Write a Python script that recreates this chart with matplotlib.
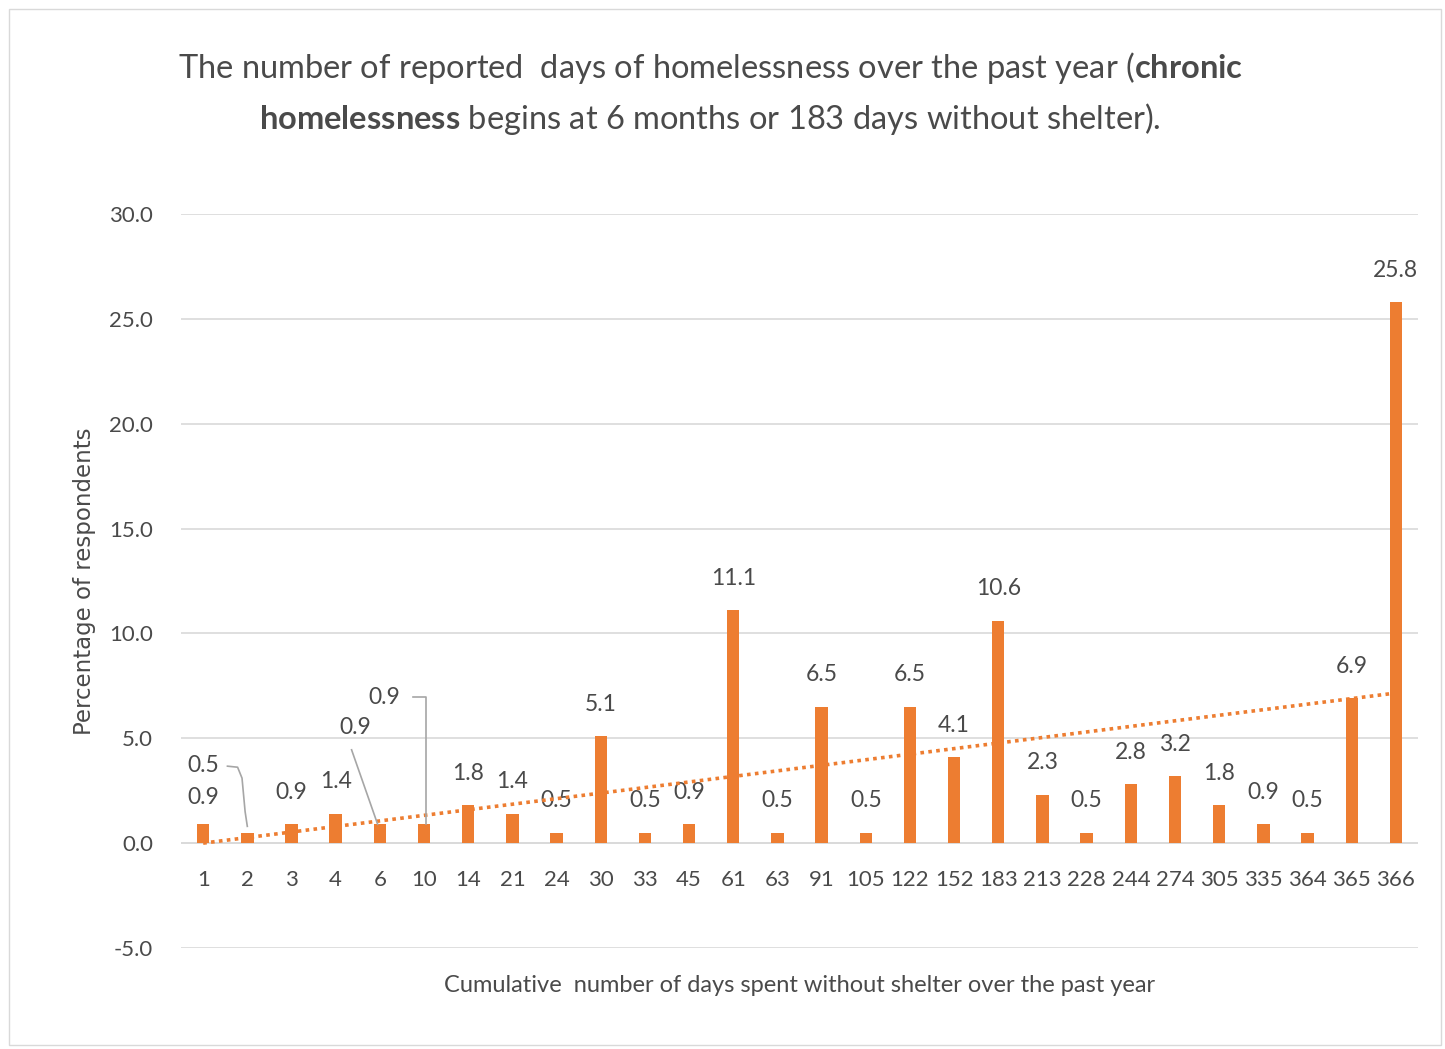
import numpy as np
import matplotlib
matplotlib.use("Agg")
import matplotlib.pyplot as plt
from matplotlib.patches import Rectangle

plt.rcParams['font.family'] = ['Lato', 'DejaVu Sans']
plt.rcParams['mathtext.fontset'] = 'custom'
plt.rcParams['mathtext.rm'] = 'Lato'
plt.rcParams['mathtext.bf'] = 'Lato:bold'

days = ["1", "2", "3", "4", "6", "10", "14", "21", "24", "30", "33", "45", "61", "63",
        "91", "105", "122", "152", "183", "213", "228", "244", "274", "305", "335",
        "364", "365", "366"]
pct = [0.9, 0.5, 0.9, 1.4, 0.9, 0.9, 1.8, 1.4, 0.5, 5.1, 0.5, 0.9, 11.1, 0.5,
       6.5, 0.5, 6.5, 4.1, 10.6, 2.3, 0.5, 2.8, 3.2, 1.8, 0.9, 0.5, 6.9, 25.8]
y_ticks = [-5, 0, 5, 10, 15, 20, 25, 30]

orange = "#ed7d31"
grey_txt = "#4a4a4a"
lead = "#a6a6a6"

fig = plt.figure(figsize=(14.45, 10.49), dpi=100)
fig.patches.append(Rectangle((0.006, 0.004), 0.991, 0.987, transform=fig.transFigure,
                             fill=False, edgecolor="#d9d9d9", linewidth=1))
ax = fig.add_axes([0.1253, 0.0963, 0.8560, 0.6997])

x = np.arange(len(days))
ax.bar(x, pct, width=0.28, color=orange, zorder=3)

# linear trendline
coef = np.polyfit(x, pct, 1)
ax.plot(x, np.polyval(coef, x), color=orange, linestyle=(0, (1, 1.2)),
        linewidth=2.6, zorder=4)

ax.set_xlim(-0.5, len(days) - 0.5)
ax.set_ylim(-5, 30)
ax.set_yticks(y_ticks)
ax.set_yticklabels([f"{v:.1f}" for v in y_ticks], fontsize=16, color=grey_txt)
ax.tick_params(axis='y', length=0, pad=20)
ax.set_xticks([])
ax.grid(axis='y', color="#d9d9d9", linewidth=1.2, zorder=0)
ax.axhline(0, color="#d9d9d9", linewidth=1.2, zorder=1)
for s in ax.spines.values():
    s.set_visible(False)

# category labels sit just below the zero line
for i, d in enumerate(days):
    ax.text(i, -1.76, d, ha='center', va='center', fontsize=16, color=grey_txt)

# data labels; three are moved aside with leader lines
lbl = dict(ha='center', va='center', fontsize=16.5, color=grey_txt)
for i, v in enumerate(pct):
    if i == 1:
        ax.text(i - 1.0, v + 3.2, f"{v:.1f}", **lbl)
        ax.plot([i - 0.45, i - 0.22, i - 0.12, i - 0.05, i],
                [v + 3.17, v + 3.12, v + 2.6, v + 1.0, v + 0.3],
                color=lead, lw=1.2, zorder=5)
    elif i == 4:
        ax.text(i - 0.55, v + 4.6, f"{v:.1f}", **lbl)
        ax.plot([i - 0.64, i - 0.05], [v + 3.55, v], color=lead, lw=1.2, zorder=5)
    elif i == 5:
        ax.text(i - 0.9, v + 6.05, f"{v:.1f}", **lbl)
        ax.plot([i - 0.25, i + 0.05, i + 0.05], [v + 6.05, v + 6.05, v],
                color=lead, lw=1.2, zorder=5)
    else:
        off = 19 if i == 0 else 23
        ax.annotate(f"{v:.1f}", xy=(i, v), xytext=(0, off), textcoords='offset points', **lbl)

ax.set_ylabel("Percentage of respondents", fontsize=16.5, color=grey_txt,
              family='DejaVu Sans', labelpad=10)
ax.set_xlabel("Cumulative  number of days spent without shelter over the past year",
              fontsize=17, color=grey_txt)
ax.xaxis.set_label_coords(0.5, -0.037)

fig.text(0.4915, 0.935,
         r"The number of reported  days of homelessness over the past year ($\mathbf{chronic}$",
         ha='center', va='center', fontsize=23.5, color=grey_txt)
fig.text(0.4915, 0.887,
         r"$\mathbf{homelessness}$ begins at 6 months or 183 days without shelter).",
         ha='center', va='center', fontsize=23.5, color=grey_txt)

fig.savefig("out.png", dpi=100)
